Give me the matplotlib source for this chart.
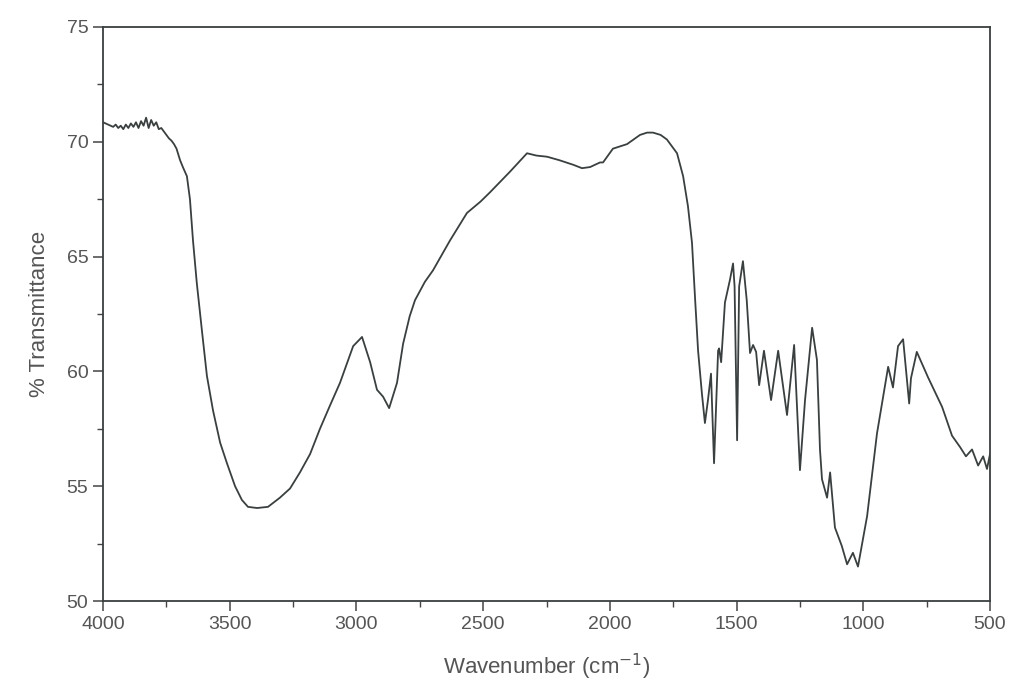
import matplotlib
matplotlib.use("Agg")
import matplotlib.pyplot as plt
from matplotlib.ticker import MultipleLocator

# FTIR spectrum, values
wavenumber = [
    4000, 3990, 3980, 3970, 3960, 3950, 3940, 3930, 3920, 3910, 3900, 3890,
    3880, 3870, 3860, 3850, 3840, 3830, 3820, 3810, 3800, 3790, 3780, 3770,
    3760, 3750, 3740, 3730, 3720, 3710, 3696, 3685, 3669, 3657, 3645, 3630,
    3609, 3590, 3566, 3538, 3511, 3479, 3452, 3428, 3392, 3349, 3302, 3262,
    3223, 3183, 3144, 3105, 3065, 3013, 2978, 2946, 2919, 2895, 2871, 2840,
    2816, 2790, 2769, 2730, 2698, 2631, 2564, 2510, 2473, 2394, 2327, 2290,
    2248, 2200, 2145, 2110, 2078, 2039, 2027, 1988, 1932, 1881, 1853, 1830,
    1800, 1775, 1735, 1711, 1692, 1676, 1664, 1652, 1637, 1625, 1613, 1601,
    1589, 1573, 1569, 1561, 1546, 1526, 1514, 1508, 1498, 1490, 1475, 1460,
    1447, 1435, 1423, 1411, 1392, 1364, 1336, 1301, 1273, 1250, 1230, 1202,
    1183, 1171, 1163, 1143, 1131, 1112, 1085, 1064, 1041, 1021, 985, 946, 902,
    883, 863, 843, 819, 812, 789, 745, 689, 650, 618, 595, 571, 547, 527,
    512, 500,
]
transmittance = [
    70.85, 70.8, 70.75, 70.7, 70.65, 70.75, 70.6, 70.7, 70.55, 70.75, 70.6, 70.8,
    70.65, 70.85, 70.6, 70.9, 70.7, 71.05, 70.6, 70.95, 70.7, 70.85, 70.55, 70.6,
    70.45, 70.3, 70.15, 70.05, 69.9, 69.7, 69.2, 68.9, 68.5, 67.5, 65.7, 63.85,
    61.7, 59.8, 58.3, 56.9, 56.0, 55.0, 54.4, 54.1, 54.05, 54.1, 54.5, 54.9,
    55.6, 56.4, 57.5, 58.5, 59.5, 61.1, 61.5, 60.4, 59.2, 58.9, 58.4, 59.5,
    61.2, 62.4, 63.1, 63.9, 64.4, 65.7, 66.9, 67.4, 67.8, 68.7, 69.5, 69.4,
    69.35, 69.2, 69.0, 68.85, 68.9, 69.1, 69.1, 69.7, 69.9, 70.3, 70.4, 70.4,
    70.3, 70.1, 69.5, 68.5, 67.2, 65.6, 63.2, 60.9, 59.05, 57.75, 58.75, 59.9,
    56.0, 60.9, 61.0, 60.4, 63.0, 64.0, 64.7, 63.7, 57.0, 63.7, 64.8, 63.1,
    60.8, 61.15, 60.85, 59.4, 60.9, 58.75, 60.9, 58.1, 61.15, 55.7, 58.75, 61.9,
    60.5, 56.6, 55.3, 54.5, 55.6, 53.2, 52.4, 51.6, 52.1, 51.5, 53.7, 57.3, 60.2,
    59.3, 61.1, 61.4, 58.6, 59.7, 60.85, 59.75, 58.45, 57.2, 56.7, 56.3, 56.6, 55.9, 56.3,
    55.75, 56.4,
]

x_ticks = [4000, 3500, 3000, 2500, 2000, 1500, 1000, 500]
y_ticks = [50, 55, 60, 65, 70, 75]

plt.rcParams['font.family'] = ['Liberation Sans', 'DejaVu Sans']

fig = plt.figure(figsize=(10.15, 6.99), dpi=100)
ax = fig.add_axes([0.1015, 0.1402, 0.8739, 0.8212])

ax.plot(wavenumber, transmittance, color='#3a3f3f', linewidth=1.3)

ax.set_xlim(4000, 500)
ax.set_ylim(50, 75)
ax.set_xticks(x_ticks)
ax.set_yticks(y_ticks)
ax.xaxis.set_minor_locator(MultipleLocator(250))
ax.yaxis.set_minor_locator(MultipleLocator(2.5))

ax.tick_params(which='major', direction='out', length=7, width=1.1,
               colors='#444444', labelsize=14, labelcolor='#555555')
ax.tick_params(which='minor', direction='out', length=4, width=1.0,
               colors='#444444')
ax.tick_params(top=False, right=False, which='both')

for s in ax.spines.values():
    s.set_color('#3a3f3f')
    s.set_linewidth(1.3)

ax.set_xlabel('Wavenumber (cm$^{-1}$)', fontsize=16, color='#555555', labelpad=14)
ax.set_ylabel('% Transmittance', fontsize=16, color='#555555', labelpad=12)

fig.savefig('out.png', dpi=100)
